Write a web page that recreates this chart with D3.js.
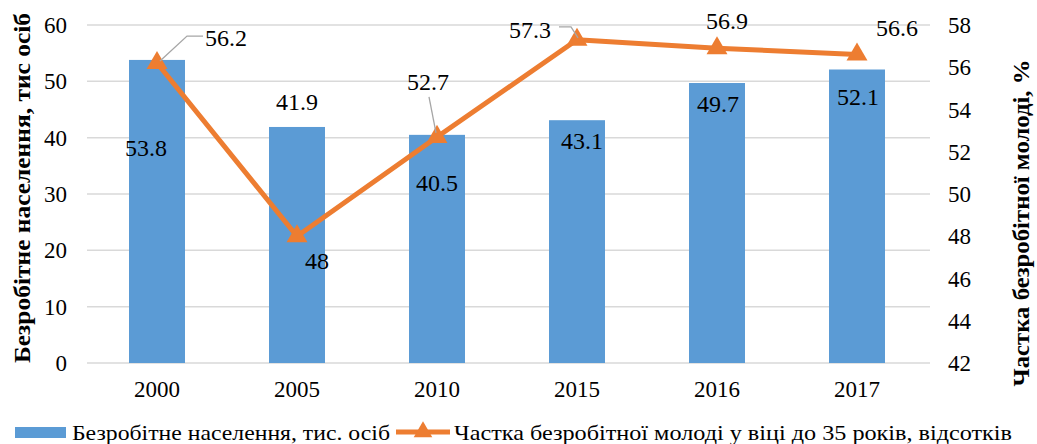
<html>
<head>
<style>
  body { margin: 0; background: #fff; }
</style>
</head>
<body>
<div id="container"></div>
<script src="https://d3js.org/d3.v7.min.js"></script>
<script>
var years = ["2000", "2005", "2010", "2015", "2016", "2017"];
var unemployed = [53.8, 41.9, 40.5, 43.1, 49.7, 52.1];
var youthShare = [56.2, 48, 52.7, 57.3, 56.9, 56.6];
var leftTicks = [0, 10, 20, 30, 40, 50, 60];
var rightTicks = [42, 44, 46, 48, 50, 52, 54, 56, 58];

// label placement (pixel nudges as in the original chart)
var barLabelPos = [[-11, 88], [0, -25], [0, 48], [5, 20], [1, 21], [1, 27]];
var lineLabelPos = [[69, -25], [20, 24], [-9, -55], [-47, -10], [10, -28], [40, -27]];

var FONT = "Liberation Serif";
var W = 1037, H = 444;
var svg = d3.select("#container").append("svg")
  .attr("width", W).attr("height", H);

var x = d3.scaleBand().domain(years).range([87, 927]);
var yL = d3.scaleLinear().domain([0, 60]).range([363, 25]);
var yR = d3.scaleLinear().domain([42, 58]).range([363, 25]);

function px(i) { return x(years[i]) + x.bandwidth() / 2; }

// gridlines
svg.append("g").selectAll("line").data(leftTicks).enter().append("line")
  .attr("x1", 87).attr("x2", 930)
  .attr("y1", function(d) { return yL(d); }).attr("y2", function(d) { return yL(d); })
  .attr("stroke", "#d9d9d9").attr("stroke-width", 1.5);

// left axis
svg.append("g").selectAll("text").data(leftTicks).enter().append("text")
  .attr("x", 67).attr("y", function(d) { return yL(d); })
  .attr("dy", "0.35em").attr("text-anchor", "end")
  .attr("font-family", FONT).attr("font-size", 23).text(function(d) { return d; });

// right axis
svg.append("g").selectAll("text").data(rightTicks).enter().append("text")
  .attr("x", 948).attr("y", function(d) { return yR(d); })
  .attr("dy", "0.35em").attr("text-anchor", "start")
  .attr("font-family", FONT).attr("font-size", 23).text(function(d) { return d; });

// x axis labels
svg.append("g").selectAll("text").data(years).enter().append("text")
  .attr("x", function(d) { return x(d) + x.bandwidth() / 2; }).attr("y", 389)
  .attr("dy", "0.35em").attr("text-anchor", "middle")
  .attr("font-family", FONT).attr("font-size", 23).text(function(d) { return d; });

// axis titles
svg.append("text")
  .attr("transform", "translate(22,188) rotate(-90)")
  .attr("text-anchor", "middle").attr("dy", "0.35em")
  .attr("textLength", 350).attr("lengthAdjust", "spacingAndGlyphs")
  .attr("font-family", FONT).attr("font-size", 23).attr("font-weight", "bold")
  .text("Безробітне населення, тис осіб");

svg.append("text")
  .attr("transform", "translate(1021,223) rotate(-90)")
  .attr("text-anchor", "middle").attr("dy", "0.35em")
  .attr("textLength", 327).attr("lengthAdjust", "spacingAndGlyphs")
  .attr("font-family", FONT).attr("font-size", 23).attr("font-weight", "bold")
  .text("Частка безробітної молоді, %");

// bars
var bw = x.bandwidth() * 0.4;
svg.append("g").selectAll("rect").data(unemployed).enter().append("rect")
  .attr("x", function(d, i) { return px(i) - bw / 2; })
  .attr("y", function(d) { return yL(d); })
  .attr("width", bw)
  .attr("height", function(d) { return yL(0) - yL(d); })
  .attr("fill", "#5b9bd5");

// line
var line = d3.line()
  .x(function(d, i) { return px(i); })
  .y(function(d) { return yR(d); });

svg.append("path").datum(youthShare)
  .attr("d", line).attr("fill", "none")
  .attr("stroke", "#ed7d31").attr("stroke-width", 5).attr("stroke-linejoin", "round");

svg.append("g").selectAll("path").data(youthShare).enter().append("path")
  .attr("d", d3.symbol().type(d3.symbolTriangle).size(190))
  .attr("transform", function(d, i) { return "translate(" + px(i) + "," + yR(d) + ")"; })
  .attr("fill", "#ed7d31");

// leader lines for a few line labels
var leaders = [
  [[px(0) + 46, yR(youthShare[0]) - 27], [px(0) + 30, yR(youthShare[0]) - 27], [px(0) + 3, yR(youthShare[0]) - 2]],
  [[px(2) - 8, yR(youthShare[2]) - 40], [px(2) - 1, yR(youthShare[2]) - 4]],
  [[px(3) - 18, yR(youthShare[3]) - 13], [px(3) - 6, yR(youthShare[3]) - 13], [px(3) + 1, yR(youthShare[3]) - 2]]
];
svg.append("g").selectAll("path").data(leaders).enter().append("path")
  .attr("d", d3.line()).attr("fill", "none")
  .attr("stroke", "#a6a6a6").attr("stroke-width", 1.3);

// bar labels
svg.append("g").selectAll("text").data(unemployed).enter().append("text")
  .attr("x", function(d, i) { return px(i) + barLabelPos[i][0]; })
  .attr("y", function(d, i) { return yL(d) + barLabelPos[i][1]; })
  .attr("dy", "0.35em").attr("text-anchor", "middle")
  .attr("font-family", FONT).attr("font-size", 24).text(function(d) { return d; });

// line labels
svg.append("g").selectAll("text").data(youthShare).enter().append("text")
  .attr("x", function(d, i) { return px(i) + lineLabelPos[i][0]; })
  .attr("y", function(d, i) { return yR(d) + lineLabelPos[i][1]; })
  .attr("dy", "0.35em").attr("text-anchor", "middle")
  .attr("font-family", FONT).attr("font-size", 24).text(function(d) { return d; });

// legend
var lg = svg.append("g").attr("transform", "translate(0,432)");
lg.append("rect").attr("x", 15).attr("y", -5).attr("width", 51).attr("height", 11).attr("fill", "#5b9bd5");
lg.append("text").attr("x", 72).attr("dy", "0.35em")
  .attr("textLength", 318).attr("lengthAdjust", "spacingAndGlyphs")
  .attr("font-family", FONT).attr("font-size", 22).text("Безробітне населення, тис. осіб");
lg.append("line").attr("x1", 396).attr("x2", 450).attr("stroke", "#ed7d31").attr("stroke-width", 5);
lg.append("path").attr("d", d3.symbol().type(d3.symbolTriangle).size(150))
  .attr("transform", "translate(423,0)").attr("fill", "#ed7d31");
lg.append("text").attr("x", 454).attr("dy", "0.35em")
  .attr("textLength", 558).attr("lengthAdjust", "spacingAndGlyphs")
  .attr("font-family", FONT).attr("font-size", 22).text("Частка безробітної молоді у віці до 35 років, відсотків");
</script>
</body>
</html>
